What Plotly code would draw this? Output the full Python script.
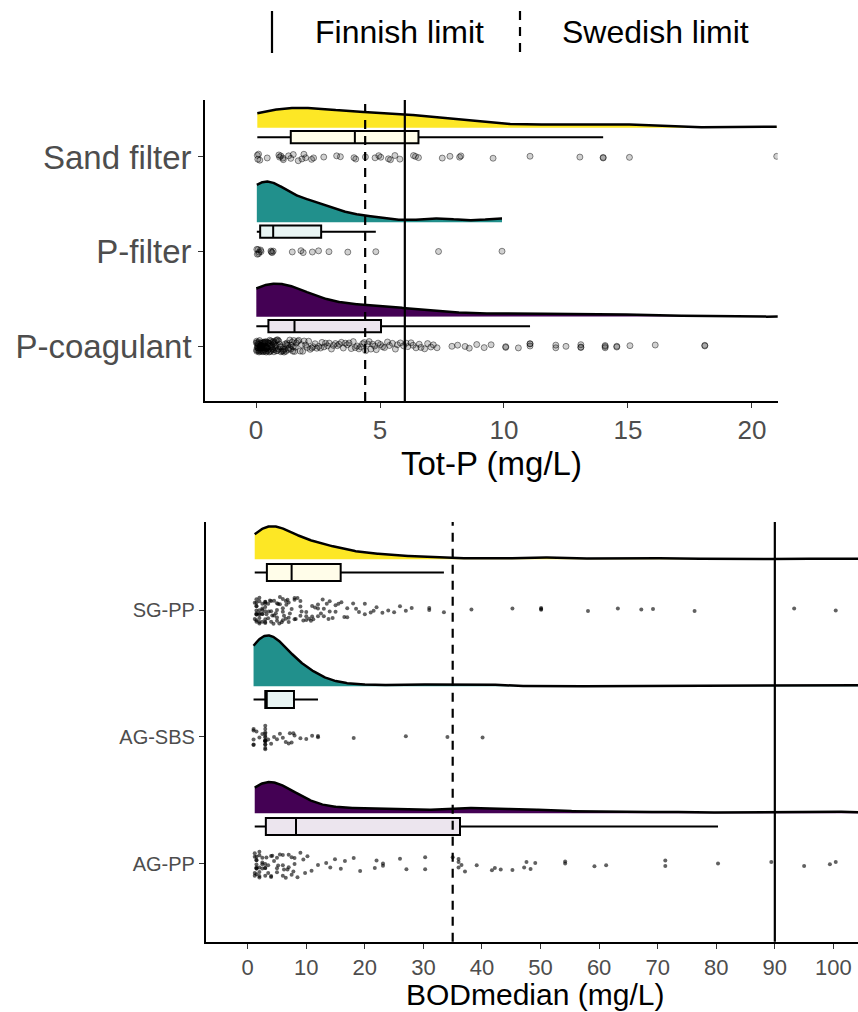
import numpy as np
import plotly.graph_objects as go

# ---------------- data ----------------
top_categories = ["Sand filter", "P-filter", "P-coagulant"]
sand_filter = [0.05, 0.07, 0.10, 0.15, 0.45, 0.92, 0.95, 1.00, 1.08, 1.10, 1.31, 1.40,
               1.50, 1.70, 1.85, 1.93, 2.00, 2.24, 2.32, 2.73, 3.25, 3.40, 3.95, 4.02,
               4.41, 4.80, 4.95, 5.03, 5.34, 5.42, 5.60, 5.80, 6.35, 6.43, 6.55, 7.51,
               7.82, 8.21, 8.26, 9.56, 11.05, 13.06, 14.00, 14.00, 15.06, 21.0]
p_filter = [0.03, 0.05, 0.08, 0.10, 0.12, 0.18, 0.20, 0.60, 0.62, 0.65, 0.69, 1.46,
            1.81, 1.90, 2.27, 2.52, 2.94, 3.70, 4.83, 7.36, 9.92]
p_coagulant = [
    0.01, 0.02, 0.02, 0.03, 0.05, 0.05, 0.06, 0.07, 0.08, 0.09, 0.10, 0.10, 0.11, 0.12,
    0.13, 0.14, 0.15, 0.15, 0.16, 0.18, 0.19, 0.20, 0.20, 0.21, 0.22, 0.24, 0.25, 0.25,
    0.26, 0.28, 0.29, 0.30, 0.30, 0.31, 0.33, 0.34, 0.35, 0.35, 0.36, 0.38, 0.39, 0.40,
    0.40, 0.41, 0.43, 0.44, 0.45, 0.46, 0.48, 0.49,
    0.50, 0.51, 0.53, 0.55, 0.56, 0.58, 0.60, 0.60, 0.62, 0.63, 0.65, 0.67, 0.68, 0.70,
    0.70, 0.72, 0.74, 0.75, 0.77, 0.79, 0.80, 0.82, 0.84, 0.86, 0.88, 0.90, 0.92, 0.95,
    0.97, 1.00, 1.02, 1.05, 1.08, 1.10, 1.13, 1.15, 1.18, 1.20, 1.23, 1.25, 1.28, 1.30,
    1.33, 1.36, 1.40, 1.42, 1.45, 1.48, 1.50, 1.52,
    1.55, 1.58, 1.62, 1.68, 1.72, 1.78, 1.83, 1.88, 1.94, 2.00, 2.06, 2.12, 2.18, 2.25,
    2.30, 2.38, 2.45, 2.52, 2.60, 2.66, 2.74, 2.80, 2.88, 2.95, 3.04, 3.12, 3.20, 3.28,
    3.35, 3.44, 3.52, 3.60, 3.68, 3.75, 3.84, 3.92, 4.00, 4.08, 4.15, 4.22, 4.30, 4.36,
    4.42, 4.50, 4.56, 4.63, 4.70, 4.78, 4.85, 4.92,
    5.02, 5.10, 5.18, 5.30, 5.38, 5.50, 5.62, 5.70, 5.82, 5.95, 6.05, 6.12, 6.25, 6.33,
    6.45, 6.58, 6.65, 6.80, 6.92, 7.05, 7.15, 7.30, 7.90, 8.13, 8.43, 8.60, 8.90, 9.20,
    9.48, 10.07, 10.07, 10.58, 11.05, 11.05, 11.05, 12.09, 12.09, 12.50, 13.10, 13.10,
    13.10, 14.08, 14.08, 14.08, 14.55, 14.55, 15.08, 16.10, 18.10, 18.10, 25.0]

bottom_categories = ["SG-PP", "AG-SBS", "AG-PP"]
sg_pp = [1.2, 1.2, 1.5, 1.5, 1.5, 1.5, 1.5, 1.5, 1.5, 1.5, 1.5, 1.5, 2.0, 2.0, 2.0, 2.0,
         2.0, 2.0, 2.0, 2.0, 2.5, 2.5, 2.5, 2.5, 2.5, 2.5, 3.0, 3.0, 3.0, 3.0, 3.0, 3.0,
         3.0, 3.0,
         3.2, 3.5, 3.5, 3.6, 3.8, 4.0, 4.0, 4.0, 4.2, 4.4, 4.5, 4.5, 4.8, 5.0, 5.0, 5.0,
         5.0, 5.2, 5.4, 5.5, 5.5, 5.8, 6.0, 6.0, 6.0, 6.0, 6.2, 6.5, 6.5, 6.6, 6.8, 7.0,
         7.0, 7.0, 7.2,
         7.5, 8.0, 8.0, 8.0, 8.2, 8.5, 9.0, 9.0, 9.0, 9.2, 9.5, 10.0, 10.0, 10.0, 10.5,
         10.8, 11.0, 11.0, 11.2, 11.5, 12.0, 12.0, 12.0, 12.5, 12.8, 13.0, 13.0, 13.5,
         13.8, 14.0, 14.0, 14.5, 15.0, 15.0, 15.5,
         16.0, 16.5, 17.0, 17.0, 18.0, 18.5, 19.0, 20.0, 20.0, 21.0, 21.5, 22.0, 23.0,
         24.0, 25.0, 26.0, 27.0, 28.0, 31.0, 31.0, 33.5, 38.2, 45.2, 50.1, 50.1, 50.1,
         58.1, 63.2, 67.2, 69.2, 76.3, 93.3, 100.4, 120.0, 150.0]
ag_sbs = [1.0, 1.0, 1.0, 1.0, 1.0, 1.5, 2.0, 2.5, 3.0, 3.0, 3.0, 3.0, 3.0, 3.0, 3.0,
          3.0, 3.0, 3.0, 3.0, 3.0, 3.0, 3.0, 3.5, 4.0, 4.5, 5.0, 5.5, 6.0, 6.5, 7.0,
          7.2, 7.5, 7.8, 8.0, 9.0, 10.0, 11.0, 12.0, 12.0, 18.1, 27.0, 34.1, 40.1, 140.0]
ag_pp = [1.2, 1.2, 1.2, 1.2, 1.5, 1.5, 1.5, 1.5, 1.5, 1.5, 1.5, 1.5, 2.0, 2.0, 2.0, 2.0,
         2.0, 2.0, 2.5, 2.5, 2.5, 2.5, 3.0, 3.0, 3.0, 3.0,
         3.2, 3.5, 3.5, 4.0, 4.0, 4.0, 4.2, 4.5, 5.0, 5.0, 5.0, 5.2, 5.5, 6.0, 6.0, 6.0,
         6.2, 6.5, 6.8, 7.0, 7.0, 7.5, 7.5, 7.8, 8.0, 8.0,
         8.5, 9.0, 9.5, 9.8, 10.2, 10.9, 12.0, 13.4, 14.1, 14.9, 15.9, 16.6, 18.1, 19.2,
         21.7, 22.0, 23.1, 23.1, 26.0, 27.1, 30.3, 30.3, 35.0, 36.0, 36.0, 36.0,
         36.5, 37.1, 39.1, 41.7, 42.2, 43.2, 45.2, 47.2, 47.6, 48.3, 49.1, 54.2, 54.2,
         59.2, 61.2, 71.3, 71.3, 80.3, 89.4, 95.0, 99.4, 100.4, 115.0, 130.0, 160.0, 190.0]

top_ticks = [0, 5, 10, 15, 20]
bottom_ticks = [0, 10, 20, 30, 40, 50, 60, 70, 80, 90, 100]
finnish_limit_p = 6.0
swedish_limit_p = 4.4
finnish_limit_bod = 90.0
swedish_limit_bod = 35.0
legend_labels = ["Finnish limit", "Swedish limit"]

# ---------------- style ----------------
FONT = "Liberation Sans, Arial, Helvetica, sans-serif"
fills = ["#FDE725", "#21908C", "#440154"]
box_fills = ["rgba(253,231,37,0.1)", "rgba(33,144,140,0.1)", "rgba(68,1,84,0.1)"]
W, H = 858, 1012


def kde(vals, bw, n=1200):
    v = np.asarray(vals, float)
    grid = np.linspace(v.min(), v.max(), n)
    d = np.exp(-0.5 * ((grid[:, None] - v[None, :]) / bw) ** 2).sum(1)
    d /= len(v) * bw * np.sqrt(2 * np.pi)
    return grid, d


fig = go.Figure()


def add_group(vals, pos, color, boxfill, bw, dens_h, dens_off, box_off, box_w,
              pt_w, xa, ya, pt_style):
    g, d = kde(vals, bw)
    yy = pos + dens_off + d / d.max() * dens_h
    base = np.full_like(g, pos + dens_off)
    fig.add_trace(go.Scatter(x=np.concatenate([g, g[::-1]]),
                             y=np.concatenate([yy, base[::-1]]),
                             fill="toself", fillcolor=color, mode="lines",
                             line=dict(width=0, color=color), xaxis=xa, yaxis=ya,
                             hoverinfo="skip"))
    fig.add_trace(go.Scatter(x=g, y=yy, mode="lines",
                             line=dict(color="black", width=2.5), xaxis=xa, yaxis=ya,
                             hoverinfo="skip"))
    fig.add_trace(go.Box(x=vals, y0=pos + box_off, orientation="h", width=box_w,
                         fillcolor=boxfill, line=dict(color="black", width=2),
                         whiskerwidth=0, boxpoints="outliers",
                         marker=dict(color="rgba(0,0,0,0)", size=1,
                                     line=dict(width=0)),
                         xaxis=xa, yaxis=ya, hoverinfo="skip"))
    fig.add_trace(go.Box(x=vals, y0=pos, orientation="h", width=pt_w,
                         fillcolor="rgba(0,0,0,0)", line=dict(color="rgba(0,0,0,0)", width=0),
                         whiskerwidth=0, boxpoints="all", jitter=1, pointpos=0,
                         marker=pt_style, xaxis=xa, yaxis=ya, hoverinfo="skip"))


top_pts = dict(size=6, color="rgba(0,0,0,0.18)",
               line=dict(color="rgba(0,0,0,0.45)", width=1))
bot_pts = dict(size=4, color="rgba(0,0,0,0.62)", line=dict(width=0))

top_data = [sand_filter, p_filter, p_coagulant]
top_bw = [1.6, 0.8, 1.2]
top_h = [0.21, 0.43, 0.35]
top_ptw = [0.09, 0.09, 0.13]
for i, vals in enumerate(top_data):
    add_group(vals, 3 - i, fills[i], box_fills[i], top_bw[i], top_h[i], 0.31, 0.21,
              0.13, top_ptw[i], "x", "y", top_pts)

bot_data = [sg_pp, ag_sbs, ag_pp]
bot_bw = [3.0, 3.0, 3.2]
bot_h = [0.26, 0.40, 0.245]
bot_ptw = [0.22, 0.20, 0.22]
for i, vals in enumerate(bot_data):
    add_group(vals, 3 - i, fills[i], box_fills[i], bot_bw[i], bot_h[i], 0.40, 0.295,
              0.134, bot_ptw[i], "x2", "y2", bot_pts)

axis_common = dict(showgrid=False, zeroline=False, showline=True, linecolor="black",
                   linewidth=1.6, ticks="outside", ticklen=5, tickwidth=1.4,
                   tickcolor="#333333")

fig.update_layout(
    width=W, height=H, margin=dict(l=0, r=0, t=0, b=0),
    plot_bgcolor="white", paper_bgcolor="white", showlegend=False,
    boxmode="overlay", hovermode=False,
    font=dict(family=FONT, color="#4D4D4D"),
    xaxis=dict(domain=[205 / W, 777.7 / W], range=[-2.06, 21.04], anchor="y",
               tickvals=top_ticks, tickfont=dict(size=26, color="#4D4D4D"),
               **axis_common),
    yaxis=dict(domain=[1 - 401 / H, 1 - 100 / H], range=[0.418, 3.603], anchor="x",
               tickvals=[3, 2, 1], ticktext=top_categories,
               tickfont=dict(size=33, color="#4D4D4D"), **axis_common),
    xaxis2=dict(domain=[205.7 / W, 1.0], range=[-7.17, 104.2], anchor="y2",
                tickvals=bottom_ticks, tickfont=dict(size=22, color="#4D4D4D"),
                **axis_common),
    yaxis2=dict(domain=[1 - 941.7 / H, 1 - 522 / H], range=[0.388, 3.693], anchor="x2",
                tickvals=[3, 2, 1], ticktext=bottom_categories,
                tickfont=dict(size=20, color="#4D4D4D"), **axis_common),
)

shapes = []
for xv, dash, xr, yr in [(finnish_limit_p, "solid", "x", "y domain"),
                         (swedish_limit_p, "9px,7px", "x", "y domain"),
                         (finnish_limit_bod, "solid", "x2", "y2 domain"),
                         (swedish_limit_bod, "9px,7px", "x2", "y2 domain")]:
    shapes.append(dict(type="line", xref=xr, yref=yr, x0=xv, x1=xv, y0=0, y1=1,
                       line=dict(color="black", width=2.2, dash=dash), layer="above"))

# legend keys (vertical line glyphs)
for xp, dash in [(272, "solid"), (520, "9px,7px")]:
    shapes.append(dict(type="line", xref="paper", yref="paper", x0=xp / W, x1=xp / W,
                       y0=1 - 11 / H, y1=1 - 53 / H,
                       line=dict(color="black", width=2.2, dash=dash)))
fig.update_layout(shapes=shapes)

annotations = [
    dict(text=legend_labels[0], x=313 / W, y=1 - 32 / H, xref="paper", yref="paper",
         xanchor="left", yanchor="middle", showarrow=False,
         font=dict(size=32, color="black", family=FONT)),
    dict(text=legend_labels[1], x=560 / W, y=1 - 32 / H, xref="paper", yref="paper",
         xanchor="left", yanchor="middle", showarrow=False,
         font=dict(size=32, color="black", family=FONT)),
    dict(text="Tot-P (mg/L)", x=491 / W, y=1 - 463 / H, xref="paper", yref="paper",
         xanchor="center", yanchor="middle", showarrow=False,
         font=dict(size=33, color="black", family=FONT)),
    dict(text="BODmedian (mg/L)", x=535 / W, y=1 - 994 / H, xref="paper", yref="paper",
         xanchor="center", yanchor="middle", showarrow=False,
         font=dict(size=30, color="black", family=FONT)),
]
fig.update_layout(annotations=annotations)

fig.write_html("out.html")
